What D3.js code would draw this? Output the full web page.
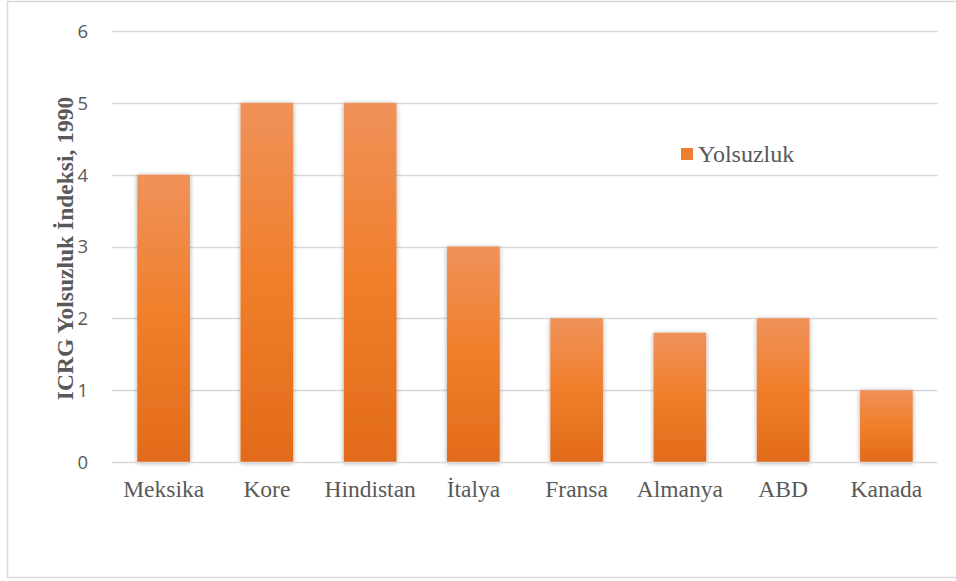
<!DOCTYPE html>
<html>
<head>
<meta charset="utf-8">
<script src="https://cdn.jsdelivr.net/npm/d3@7"></script>
<style>
  html, body { margin: 0; padding: 0; background: #fff; }
  svg { display: block; }
</style>
</head>
<body>
<svg id="chart" width="956" height="581"></svg>
<script>
const categories = ["Meksika", "Kore", "Hindistan", "İtalya", "Fransa", "Almanya", "ABD", "Kanada"];
const values = [4, 5, 5, 3, 2, 1.8, 2, 1];
const yTicks = [0, 1, 2, 3, 4, 5, 6];
const seriesName = "Yolsuzluk";
const yTitle = "ICRG Yolsuzluk İndeksi, 1990";

const svg = d3.select("#chart");
const W = 956, H = 581;

// outer frame
svg.append("rect").attr("x", 7.5).attr("y", 1.5).attr("width", W + 10).attr("height", 576)
  .attr("fill", "#fff").attr("stroke", "#d9d9d9").attr("stroke-width", 1.5);

const defs = svg.append("defs");
const grad = defs.append("linearGradient").attr("id", "barGrad")
  .attr("x1", 0).attr("y1", 0).attr("x2", 0).attr("y2", 1);
grad.append("stop").attr("offset", "0%").attr("stop-color", "#F0925A");
grad.append("stop").attr("offset", "50%").attr("stop-color", "#F07E2A");
grad.append("stop").attr("offset", "100%").attr("stop-color", "#E26B1A");

const filt = defs.append("filter").attr("id", "shadow")
  .attr("x", "-30%").attr("y", "-10%").attr("width", "160%").attr("height", "120%");
filt.append("feGaussianBlur").attr("in", "SourceAlpha").attr("stdDeviation", 2.5).attr("result", "blur");
filt.append("feOffset").attr("dx", 0).attr("dy", 1).attr("result", "ob");
filt.append("feComponentTransfer").attr("in", "ob").attr("result", "sh")
  .append("feFuncA").attr("type", "linear").attr("slope", 0.35);
const merge = filt.append("feMerge");
merge.append("feMergeNode").attr("in", "sh");
merge.append("feMergeNode").attr("in", "SourceGraphic");

const x = d3.scaleBand().domain(categories).range([112, 938]).paddingInner(0.49).paddingOuter(0.245);
const y = d3.scaleLinear().domain([0, 6]).range([462, 31]);

// gridlines
svg.append("g").selectAll("line").data(yTicks.filter(d => d > 0)).join("line")
  .attr("x1", 112).attr("x2", 938)
  .attr("y1", d => Math.round(y(d)) + 0.5).attr("y2", d => Math.round(y(d)) + 0.5)
  .attr("stroke", "#d9d9d9").attr("stroke-width", 1.5);

// y tick labels
const yAxis = d3.axisLeft(y).tickValues(yTicks).tickFormat(d3.format("d")).tickSize(0).tickPadding(0);
const yg = svg.append("g").attr("transform", "translate(88,0)").call(yAxis);
yg.select(".domain").remove();
yg.selectAll("text").style("font-family", "'Open Sans', 'Liberation Sans', sans-serif")
  .style("font-size", "18.5px").attr("fill", "#595959").attr("dy", "0.35em");

// bars
svg.append("g").selectAll("rect").data(values).join("rect")
  .attr("x", (d, i) => x(categories[i]))
  .attr("y", d => y(d))
  .attr("width", x.bandwidth())
  .attr("height", d => y(0) - y(d))
  .attr("fill", "url(#barGrad)")
  .attr("filter", "url(#shadow)");

// x axis baseline
svg.append("line").attr("x1", 112).attr("x2", 938).attr("y1", 462.5).attr("y2", 462.5)
  .attr("stroke", "#d9d9d9").attr("stroke-width", 1.5);

// x labels
const xAxis = d3.axisBottom(x).tickSize(0).tickPadding(0);
const xg = svg.append("g").attr("transform", "translate(0,477)").call(xAxis);
xg.select(".domain").remove();
xg.selectAll("text").style("font-family", "'Liberation Serif', 'Times New Roman', serif")
  .style("font-size", "23.5px").attr("fill", "#595959").attr("dy", "0.85em");

// y title
svg.append("text")
  .attr("transform", `translate(73,${(462 + 31) / 2 + 2}) rotate(-90)`)
  .attr("text-anchor", "middle")
  .style("font-family", "'Liberation Serif', 'Times New Roman', serif")
  .style("font-weight", "bold").style("font-size", "23.5px").attr("fill", "#595959")
  .text(yTitle);

// legend
const lg = svg.append("g").attr("transform", "translate(681,148)");
lg.append("rect").attr("width", 12).attr("height", 12).attr("fill", "#EE7E32");
lg.append("text").attr("x", 17).attr("y", 6).attr("dy", "0.35em")
  .style("font-family", "'Liberation Serif', 'Times New Roman', serif")
  .style("font-size", "24px").attr("fill", "#595959").text(seriesName);
</script>
</body>
</html>
